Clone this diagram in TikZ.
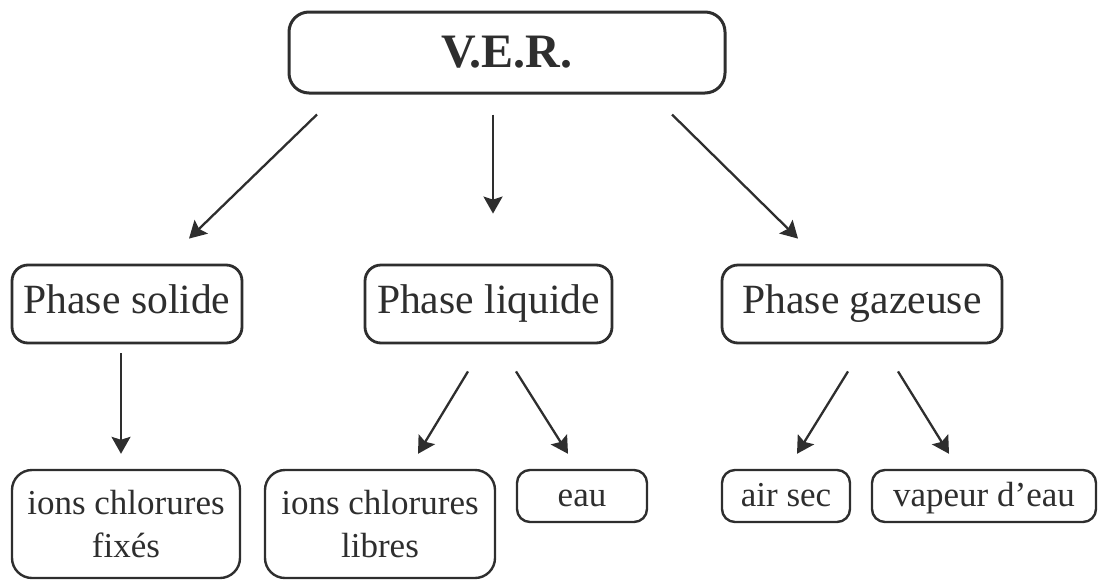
\documentclass[tikz,border=0pt]{standalone}
\usepackage{fontspec}
\setmainfont{Liberation Serif}
\usepackage{tikz}
\usetikzlibrary{arrows.meta,positioning}

\colorlet{ink}{black!82}

\begin{document}
\begin{tikzpicture}[x=1pt,y=-1pt,
>={Stealth[length=17pt,width=19pt,inset=3pt]},
every node/.style={draw=ink,text=ink,rounded corners=16pt,inner sep=0pt},
topbox/.style={line width=3pt,rounded corners=20pt,font=\fontsize{48}{56}\selectfont\bfseries},
phasebox/.style={line width=2.8pt,minimum height=78pt,text height=29pt,text depth=11pt,font=\fontsize{41.6}{50}\selectfont},
leafbox/.style={line width=2.4pt,rounded corners=13pt,minimum height=52pt,text height=25pt,text depth=4pt,font=\fontsize{35}{43}\selectfont},
bigleaf/.style={line width=2.4pt,rounded corners=20pt,minimum height=108pt,align=center,font=\fontsize{35}{43}\selectfont},
arr/.style={->,draw=ink,line width=2.3pt}]
\useasboundingbox (0,0) rectangle (1099,581);

\node[topbox,minimum width=436pt,minimum height=81pt] (ver) at (507,52.5) {V.E.R.};

\node[phasebox,minimum width=230pt] (solide) at (127,304) {Phase solide};
\node[phasebox,minimum width=247pt] (liquide) at (488.5,304) {Phase liquide};
\node[phasebox,minimum width=280pt] (gazeuse) at (862,304) {Phase gazeuse};

\node[bigleaf,minimum width=228pt] (fixes) at (126,524) {ions chlorures\\fixés};
\node[bigleaf,minimum width=230pt] (libres) at (380,524) {ions chlorures\\libres};
\node[leafbox,minimum width=130pt] (eau) at (582,496) {eau};
\node[leafbox,minimum width=128pt] (airsec) at (786,496) {air sec};
\node[leafbox,minimum width=224pt] (vapeur) at (984,496) {vapeur d’eau};

\draw[arr] ([shift={(-190,20)}]ver.south) -- ([shift={(62,-25)}]solide.north);
\draw[arr] ([shift={(-14,20)}]ver.south) -- ([shift={(4.5,-50)}]liquide.north);
\draw[arr] ([shift={(165,20)}]ver.south) -- ([shift={(-64,-25)}]gazeuse.north);

\draw[arr] ([shift={(-6,9)}]solide.south) -- ([shift={(-5,-15)}]fixes.north);
\draw[arr] ([shift={(-20.5,27)}]liquide.south) -- ([shift={(38,-15)}]libres.north);
\draw[arr] ([shift={(27.5,27)}]liquide.south) -- ([shift={(-14,-15)}]eau.north);
\draw[arr] ([shift={(-14,27)}]gazeuse.south) -- ([shift={(11,-15)}]airsec.north);
\draw[arr] ([shift={(36,27)}]gazeuse.south) -- ([shift={(-35,-15)}]vapeur.north);
\end{tikzpicture}
\end{document}
